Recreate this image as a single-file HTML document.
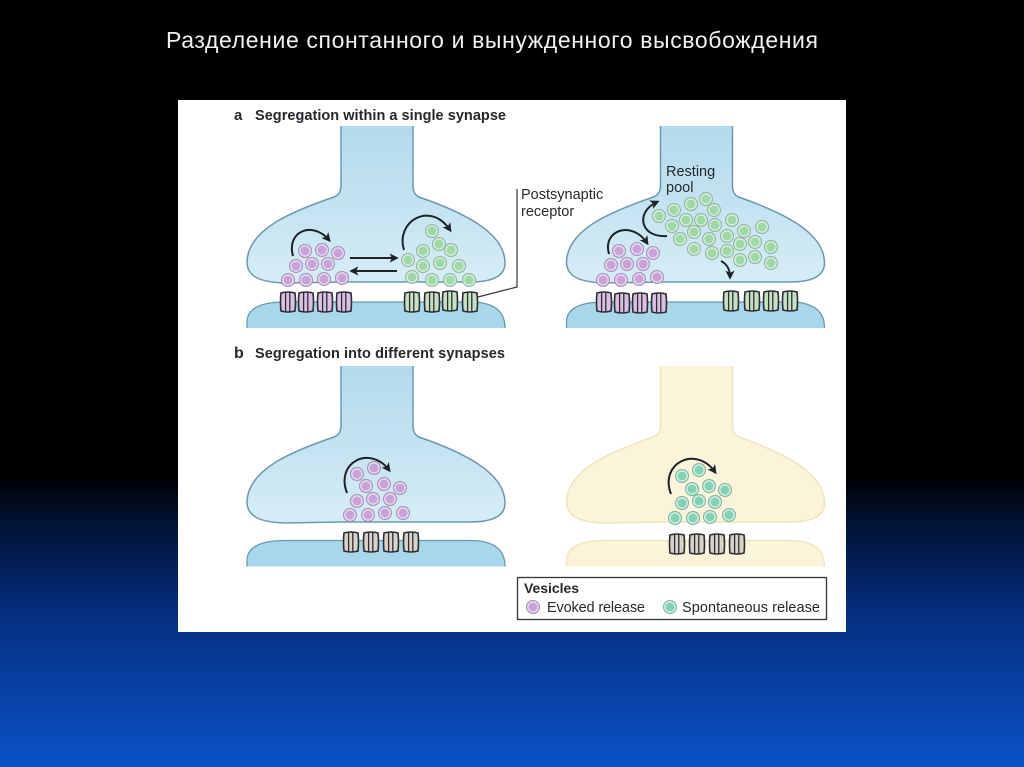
<!DOCTYPE html>
<html>
<head>
<meta charset="utf-8">
<style>
html,body{margin:0;padding:0;width:1024px;height:767px;overflow:hidden;background:#000}
svg{display:block}
text{font-family:"Liberation Sans",sans-serif;fill:#26282c}
</style>
</head>
<body>
<svg xmlns="http://www.w3.org/2000/svg" width="1024" height="767" viewBox="0 0 1024 767">
<defs>
<linearGradient id="bg" x1="0" y1="0" x2="0" y2="1">
<stop offset="0" stop-color="#000"/>
<stop offset="0.62" stop-color="#000"/>
<stop offset="0.68" stop-color="#021233"/>
<stop offset="0.8" stop-color="#052f80"/>
<stop offset="1" stop-color="#0a52c8"/>
</linearGradient>
<linearGradient id="blue" x1="0" y1="0" x2="0" y2="1">
<stop offset="0" stop-color="#b3daec"/>
<stop offset="0.5" stop-color="#c4e3f1"/>
<stop offset="1" stop-color="#d6edf6"/>
</linearGradient>
<marker id="ah" viewBox="0 0 10 10" refX="7" refY="5" markerWidth="4.6" markerHeight="4.6" orient="auto">
<path d="M0 0L10 5L0 10L2.5 5Z" fill="#1d2228"/>
</marker>
<path id="bulb" d="M341 126V186Q341 194 334 197C290 212 247 230 247 263C248 278 262 282 285 283L340 282L420 282L470 282C495 282 505 275 505 263C505 232 462 212 419 197Q413 194 413 186V126"/>
<path id="post" d="M247 328V322C247 310 258 302 285 302L470 302C495 302 505 312 505 328"/>
<g id="rec">
<path d="M-7 -9Q0 -11 7 -9Q8 0 7 9Q0 11 -7 9Q-8 0 -7 -9Z" stroke="#2c2c34" stroke-width="1.6"/>
<path d="M-2.4 -9.5V9.5M1.8 -10V10" stroke="#2c2c34" stroke-width="1.3" fill="none"/>
</g>
<g id="vp">
<circle r="7" fill="#a391b8"/>
<circle r="5.9" fill="#ead9ee"/>
<circle r="4.4" fill="#c9a2da"/>
</g>
<g id="vg">
<circle r="7" fill="#8fb5a0"/>
<circle r="5.9" fill="#d8eedb"/>
<circle r="4.4" fill="#9ed8a6"/>
</g>
<g id="vt">
<circle r="7" fill="#7fb5a4"/>
<circle r="5.9" fill="#d4efe3"/>
<circle r="4.4" fill="#80d2b0"/>
</g>
</defs>

<rect width="1024" height="767" fill="url(#bg)"/>
<text x="166" y="48" font-size="23" textLength="652" style="fill:#f2f2f2">Разделение спонтанного и вынужденного высвобождения</text>

<rect x="178" y="100" width="668" height="532" fill="#fff"/>

<text x="234" y="120" font-size="15" font-weight="bold">a</text>
<text x="255" y="120" font-size="14.5" font-weight="bold" textLength="251">Segregation within a single synapse</text>
<text x="234" y="358" font-size="16" font-weight="bold">b</text>
<text x="255" y="358" font-size="14.5" font-weight="bold" textLength="250">Segregation into different synapses</text>

<!-- a left -->
<use href="#bulb" fill="url(#blue)" stroke="#6d98ad" stroke-width="1.5"/>
<path d="M247 328V322C247 310 258 302 285 302L470 302C495 302 505 312 505 328Z" fill="#a9d7ea"/>
<use href="#post" fill="none" stroke="#6d98ad" stroke-width="1.3"/>
<g fill="#dcc0e4">
<use href="#rec" x="288" y="302"/><use href="#rec" x="306" y="302"/><use href="#rec" x="325" y="302"/><use href="#rec" x="344" y="302"/>
</g>
<g fill="#c5e3c3">
<use href="#rec" x="412" y="302"/><use href="#rec" x="432" y="302"/><use href="#rec" x="450" y="301"/><use href="#rec" x="470" y="302"/>
</g>
<use href="#vp" x="305" y="251"/><use href="#vp" x="322" y="250"/><use href="#vp" x="338" y="253"/><use href="#vp" x="296" y="266"/><use href="#vp" x="312" y="264"/><use href="#vp" x="328" y="264"/><use href="#vp" x="288" y="280"/><use href="#vp" x="306" y="280"/><use href="#vp" x="324" y="279"/><use href="#vp" x="342" y="278"/>
<use href="#vg" x="432" y="231"/><use href="#vg" x="439" y="244"/><use href="#vg" x="451" y="250"/><use href="#vg" x="423" y="251"/><use href="#vg" x="408" y="260"/><use href="#vg" x="423" y="266"/><use href="#vg" x="440" y="263"/><use href="#vg" x="459" y="266"/><use href="#vg" x="412" y="277"/><use href="#vg" x="432" y="280"/><use href="#vg" x="450" y="280"/><use href="#vg" x="469" y="280"/>
<g fill="none" stroke="#1d2228" stroke-width="2" marker-end="url(#ah)">
<path d="M293 256C286 232 312 220 329 240"/>
<path d="M404 250C395 222 430 200 450 230"/>
<path d="M350 258H396"/>
<path d="M397 271H352"/>
</g>
<path d="M478 297L517 287V189" fill="none" stroke="#33363a" stroke-width="1.2"/>
<text x="521" y="199" font-size="14.5">Postsynaptic</text>
<text x="521" y="216" font-size="14.5">receptor</text>

<!-- a right -->
<g transform="translate(319.5,0)">
<use href="#bulb" fill="url(#blue)" stroke="#6d98ad" stroke-width="1.5"/>
<path d="M247 328V322C247 310 258 302 285 302L470 302C495 302 505 312 505 328Z" fill="#a9d7ea"/>
<use href="#post" fill="none" stroke="#6d98ad" stroke-width="1.3"/>
</g>
<g fill="#dcc0e4">
<use href="#rec" x="604" y="302"/><use href="#rec" x="622" y="303"/><use href="#rec" x="640" y="303"/><use href="#rec" x="659" y="303"/>
</g>
<g fill="#c5e3c3">
<use href="#rec" x="731" y="301"/><use href="#rec" x="752" y="301"/><use href="#rec" x="771" y="301"/><use href="#rec" x="790" y="301"/>
</g>
<use href="#vp" x="619" y="251"/><use href="#vp" x="637" y="249"/><use href="#vp" x="653" y="253"/><use href="#vp" x="611" y="265"/><use href="#vp" x="627" y="264"/><use href="#vp" x="643" y="264"/><use href="#vp" x="603" y="280"/><use href="#vp" x="621" y="280"/><use href="#vp" x="639" y="279"/><use href="#vp" x="657" y="277"/>
<use href="#vg" x="706" y="199"/><use href="#vg" x="691" y="204"/><use href="#vg" x="674" y="210"/><use href="#vg" x="659" y="216"/><use href="#vg" x="714" y="210"/><use href="#vg" x="672" y="226"/><use href="#vg" x="686" y="220"/><use href="#vg" x="701" y="220"/><use href="#vg" x="715" y="225"/><use href="#vg" x="732" y="220"/><use href="#vg" x="762" y="227"/><use href="#vg" x="744" y="231"/><use href="#vg" x="694" y="232"/><use href="#vg" x="680" y="239"/><use href="#vg" x="709" y="239"/><use href="#vg" x="727" y="236"/><use href="#vg" x="740" y="244"/><use href="#vg" x="755" y="242"/><use href="#vg" x="771" y="247"/><use href="#vg" x="694" y="249"/><use href="#vg" x="712" y="253"/><use href="#vg" x="727" y="251"/><use href="#vg" x="740" y="260"/><use href="#vg" x="755" y="257"/><use href="#vg" x="771" y="263"/>
<g fill="none" stroke="#1d2228" stroke-width="2" marker-end="url(#ah)">
<path d="M609 254C602 230 632 220 647 243"/>
<path d="M667 236C640 238 635 212 657 202"/>
<path d="M721 261C727 264 730 270 730 277"/>
</g>
<text x="666" y="176" font-size="14.5">Resting</text>
<text x="666" y="192" font-size="14.5">pool</text>

<!-- b left -->
<g transform="translate(0,240)">
<use href="#bulb" fill="url(#blue)" stroke="#6d98ad" stroke-width="1.5"/>
</g>
<g transform="translate(0,238.5)">
<path d="M247 328V322C247 310 258 302 285 302L470 302C495 302 505 312 505 328Z" fill="#a9d7ea"/>
<use href="#post" fill="none" stroke="#6d98ad" stroke-width="1.3"/>
</g>
<g fill="#d8d2c8">
<use href="#rec" x="351" y="542"/><use href="#rec" x="371" y="542"/><use href="#rec" x="391" y="542"/><use href="#rec" x="411" y="542"/>
</g>
<use href="#vp" x="357" y="474"/><use href="#vp" x="374" y="468"/><use href="#vp" x="366" y="486"/><use href="#vp" x="384" y="484"/><use href="#vp" x="400" y="488"/><use href="#vp" x="357" y="501"/><use href="#vp" x="373" y="499"/><use href="#vp" x="390" y="499"/><use href="#vp" x="350" y="515"/><use href="#vp" x="368" y="515"/><use href="#vp" x="385" y="513"/><use href="#vp" x="403" y="513"/>
<path d="M347 493C335 462 370 445 389 470" fill="none" stroke="#1d2228" stroke-width="2" marker-end="url(#ah)"/>

<!-- b right -->
<g transform="translate(319.5,240)">
<use href="#bulb" fill="#fbf3da" stroke="#efe4bd" stroke-width="1.5"/>
</g>
<g transform="translate(319.5,238.5)">
<path d="M247 328V322C247 310 258 302 285 302L470 302C495 302 505 312 505 328Z" fill="#fbf3da"/>
<use href="#post" fill="none" stroke="#efe4bd" stroke-width="1.3"/>
</g>
<g fill="#d8d2c8">
<use href="#rec" x="677" y="544"/><use href="#rec" x="697" y="544"/><use href="#rec" x="717" y="544"/><use href="#rec" x="737" y="544"/>
</g>
<use href="#vt" x="682" y="476"/><use href="#vt" x="699" y="470"/><use href="#vt" x="692" y="489"/><use href="#vt" x="709" y="486"/><use href="#vt" x="725" y="490"/><use href="#vt" x="682" y="503"/><use href="#vt" x="699" y="501"/><use href="#vt" x="715" y="502"/><use href="#vt" x="675" y="518"/><use href="#vt" x="693" y="518"/><use href="#vt" x="710" y="517"/><use href="#vt" x="729" y="515"/>
<path d="M671 494C659 463 696 445 715 472" fill="none" stroke="#1d2228" stroke-width="2" marker-end="url(#ah)"/>

<!-- legend -->
<rect x="517.5" y="577.5" width="309" height="42" fill="#fff" stroke="#33363a" stroke-width="1.3"/>
<text x="524" y="593" font-size="14" font-weight="bold" textLength="55">Vesicles</text>
<use href="#vp" x="533" y="607"/>
<text x="547" y="612" font-size="14.5" textLength="98">Evoked release</text>
<use href="#vt" x="670" y="607"/>
<text x="682" y="612" font-size="14.5" textLength="138">Spontaneous release</text>
</svg>
</body>
</html>
